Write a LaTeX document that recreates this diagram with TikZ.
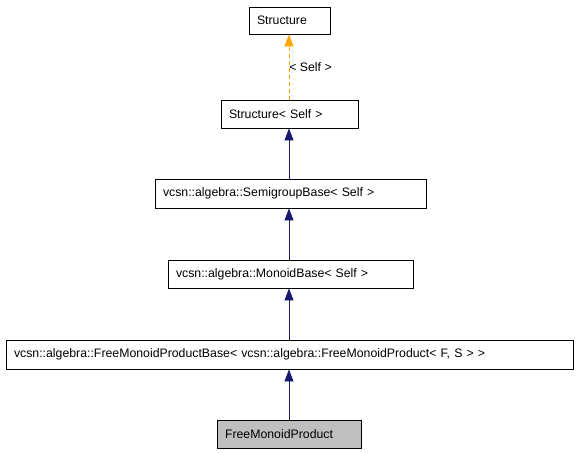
\documentclass[tikz,border=0pt]{standalone}
\usepackage{fontspec}
\setmainfont{Liberation Sans}
\usetikzlibrary{arrows.meta}
\definecolor{navy}{HTML}{191970}
\definecolor{orng}{HTML}{FFA500}
\begin{document}
\begin{tikzpicture}[x=1pt,y=-1pt,
  box/.style={draw=black,line width=0.9pt,fill=white,inner xsep=8pt,inner ysep=0pt,font=\fontsize{12.3}{14}\selectfont,anchor=center,align=left},
  inh/.style={draw=navy,line width=0.7pt,-{Triangle[width=9pt,length=12pt,fill=navy]}},
  tmpl/.style={draw=orng,line width=0.7pt,dash pattern=on 4pt off 3pt,-{Triangle[width=9pt,length=12pt,fill=orng]}}]
\useasboundingbox (0,0) rectangle (579,453);
\node[box,text width=65pt,minimum height=27pt] (s) at (289.5,20.5) {Structure};
\node[box,text width=121pt,minimum height=28pt] (ss) at (289.5,114) {Structure< Self >};
\node[box,text width=255pt,minimum height=29pt] (sg) at (290.5,193.5) {vcsn::algebra::SemigroupBase< Self >};
\node[box,text width=229pt,minimum height=28pt] (mb) at (290.5,274) {vcsn::algebra::MonoidBase< Self >};
\node[box,text width=551pt,minimum height=29pt] (fb) at (289.5,354.5) {vcsn::algebra::FreeMonoidProductBase< vcsn::algebra::FreeMonoidProduct< F, S > >};
\node[box,fill={rgb,255:red,191;green,191;blue,191},text width=128pt,minimum height=28pt] (fp) at (289,434) {FreeMonoidProduct};
\draw[tmpl] (ss.north -| 289,0) -- (s.south -| 289,0) node[pos=0.5,right,inner sep=0pt,font=\fontsize{12.3}{14}\selectfont] {< Self >};
\draw[inh] (sg.north -| 289,0) -- (ss.south -| 289,0);
\draw[inh] (mb.north -| 289,0) -- (sg.south -| 289,0);
\draw[inh] (fb.north -| 289,0) -- (mb.south -| 289,0);
\draw[inh] (fp.north -| 289,0) -- (fb.south -| 289,0);
\end{tikzpicture}
\end{document}
